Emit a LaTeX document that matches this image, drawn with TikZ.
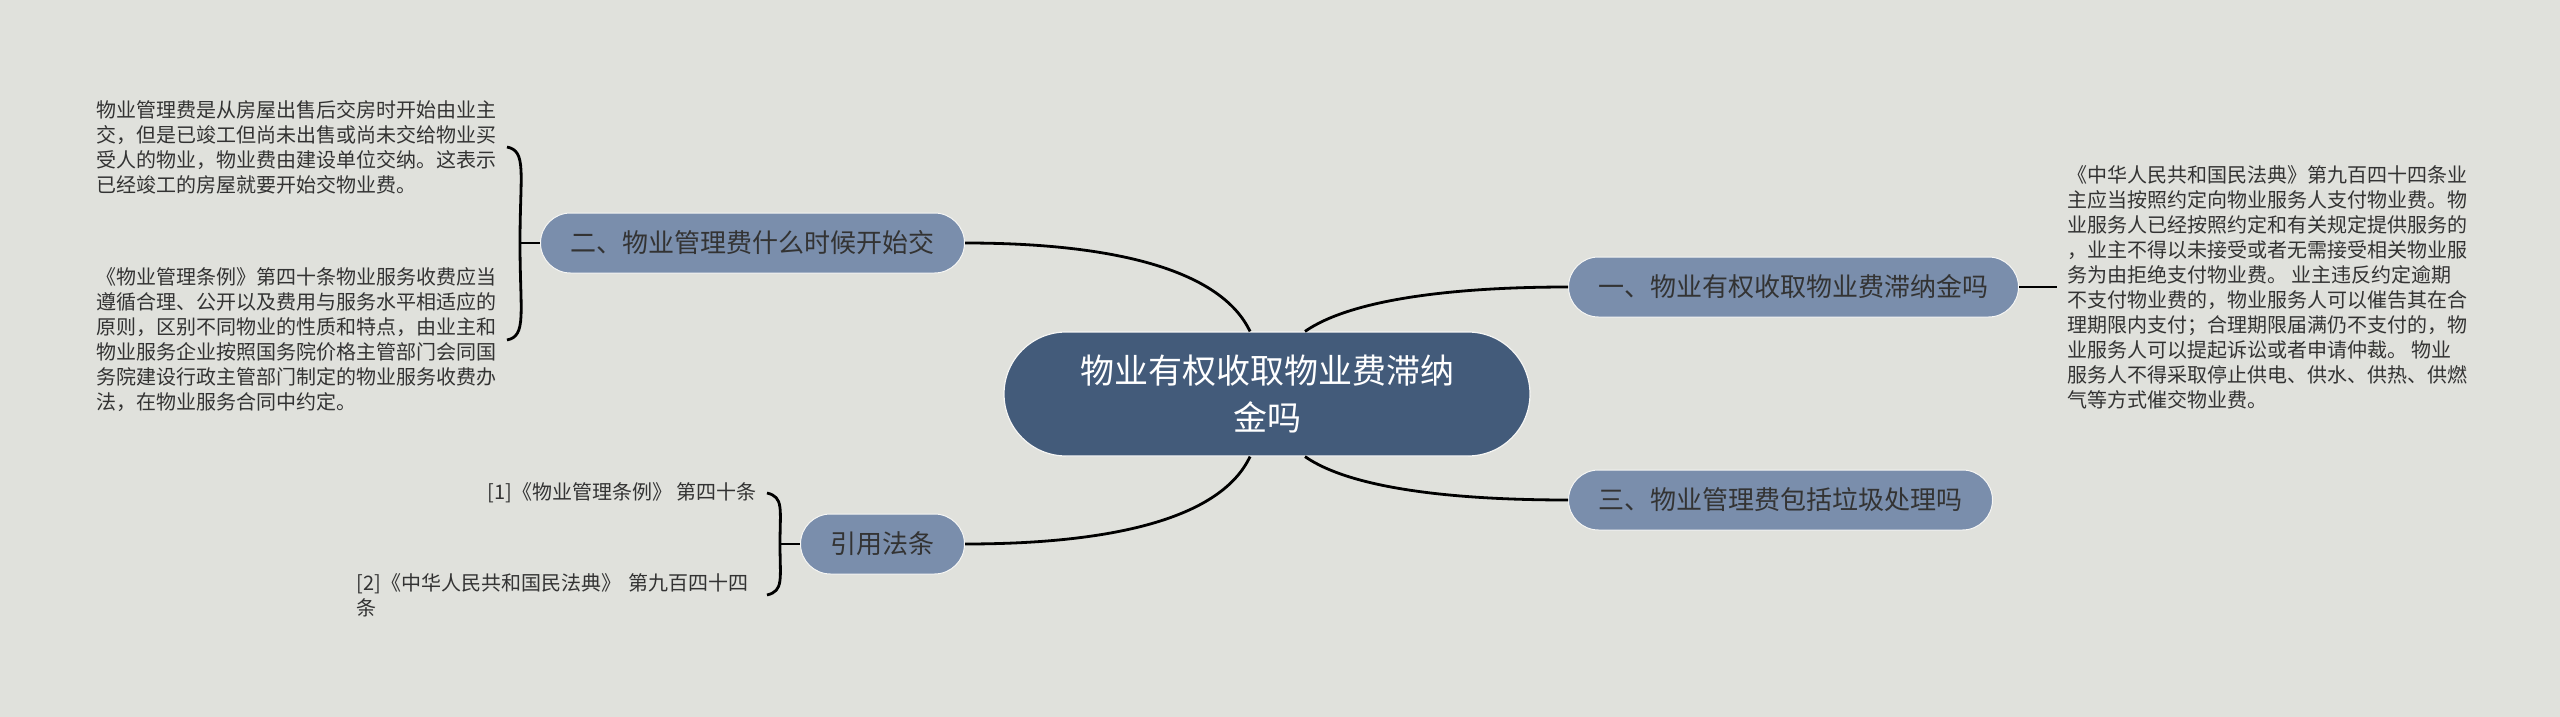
\documentclass[tikz,border=0pt]{standalone}
\usepackage{fontspec}
\setmainfont{Noto Sans CJK SC}
\usetikzlibrary{positioning}
\definecolor{bgc}{HTML}{E0E1DC}
\definecolor{topicc}{HTML}{435B7A}
\definecolor{branchc}{HTML}{7A8EAC}
\definecolor{inkc}{HTML}{333333}
\begin{document}
\begin{tikzpicture}[
  x=1pt, y=-1pt,
  topic/.style={fill=topicc, draw=white!70!bgc, line width=1.2pt,
                rounded corners=62pt, minimum width=526pt, minimum height=124pt,
                align=center, text=white, font=\fontsize{34}{47}\selectfont},
  branch/.style={fill=branchc, draw=white!70!bgc, line width=1pt,
                 rounded corners=30pt, minimum height=60pt, inner xsep=30pt,
                 text=inkc, font=\fontsize{26}{32}\selectfont},
  leaf/.style={inner xsep=10pt, inner ysep=0pt, align=left, text=inkc,
               font=\fontsize{20}{25}\selectfont},
  link/.style={line width=2.8pt, black},
]
\fill[bgc] (0,0) rectangle (2560,717);

\node[topic] (root) at (1267,394) {物业有权收取物业费滞纳\\金吗};

\node[branch, anchor=west] (b1) at (1568,287) {一、物业有权收取物业费滞纳金吗};
\node[branch, anchor=east] (b2) at (965,243) {二、物业管理费什么时候开始交};
\node[branch, anchor=west] (b3) at (1568,500) {三、物业管理费包括垃圾处理吗};
\node[branch, anchor=east] (bref) at (965,544) {引用法条};

\node[leaf, right=38pt of b1] (rt) {《中华人民共和国民法典》第九百四十四条业\\
主应当按照约定向物业服务人支付物业费。物\\
业服务人已经按照约定和有关规定提供服务的\\
，业主不得以未接受或者无需接受相关物业服\\
务为由拒绝支付物业费。 业主违反约定逾期\\
不支付物业费的，物业服务人可以催告其在合\\
理期限内支付；合理期限届满仍不支付的，物\\
业服务人可以提起诉讼或者申请仲裁。 物业\\
服务人不得采取停止供电、供水、供热、供燃\\
气等方式催交物业费。};

\node[leaf, anchor=east, text width=400pt] (t1) at (507,147) {物业管理费是从房屋出售后交房时开始由业主\\
交，但是已竣工但尚未出售或尚未交给物业买\\
受人的物业，物业费由建设单位交纳。这表示\\
已经竣工的房屋就要开始交物业费。};
\node[leaf, anchor=east, text width=400pt] (t2) at (507,340) {《物业管理条例》第四十条物业服务收费应当\\
遵循合理、公开以及费用与服务水平相适应的\\
原则，区别不同物业的性质和特点，由业主和\\
物业服务企业按照国务院价格主管部门会同国\\
务院建设行政主管部门制定的物业服务收费办\\
法，在物业服务合同中约定。};

\node[leaf, anchor=east] (r1) at (767,493) {[1]《物业管理条例》 第四十条};
\node[leaf, anchor=east, text width=400pt] (r2) at (767,595) {[2]《中华人民共和国民法典》 第九百四十四\\条};

\draw[link] ([xshift=38]root.north) .. controls (1350,300) and (1450,287) .. (b1.west);
\draw[link] ([xshift=-17]root.north) .. controls (1222,272) and (1120,243) .. (b2.east);
\draw[link] ([xshift=38]root.south) .. controls (1350,488) and (1450,500) .. (b3.west);
\draw[link] ([xshift=-17]root.south) .. controls (1222,516) and (1120,544) .. (bref.east);

\draw[link] (b1.east) -- (rt.west);

\draw[link] (t1.east) .. controls +(20,4) and +(0,-70) .. ([xshift=-20]b2.west)
  .. controls +(0,70) and +(20,-4) .. (t2.east);
\draw[link] ([xshift=-20]b2.west) -- (b2.west);

\draw[link] (r1.east) .. controls +(17,4) and +(0,-35) .. ([xshift=-20]bref.west)
  .. controls +(0,35) and +(17,-4) .. (r2.east);
\draw[link] ([xshift=-20]bref.west) -- (bref.west);
\end{tikzpicture}
\end{document}
